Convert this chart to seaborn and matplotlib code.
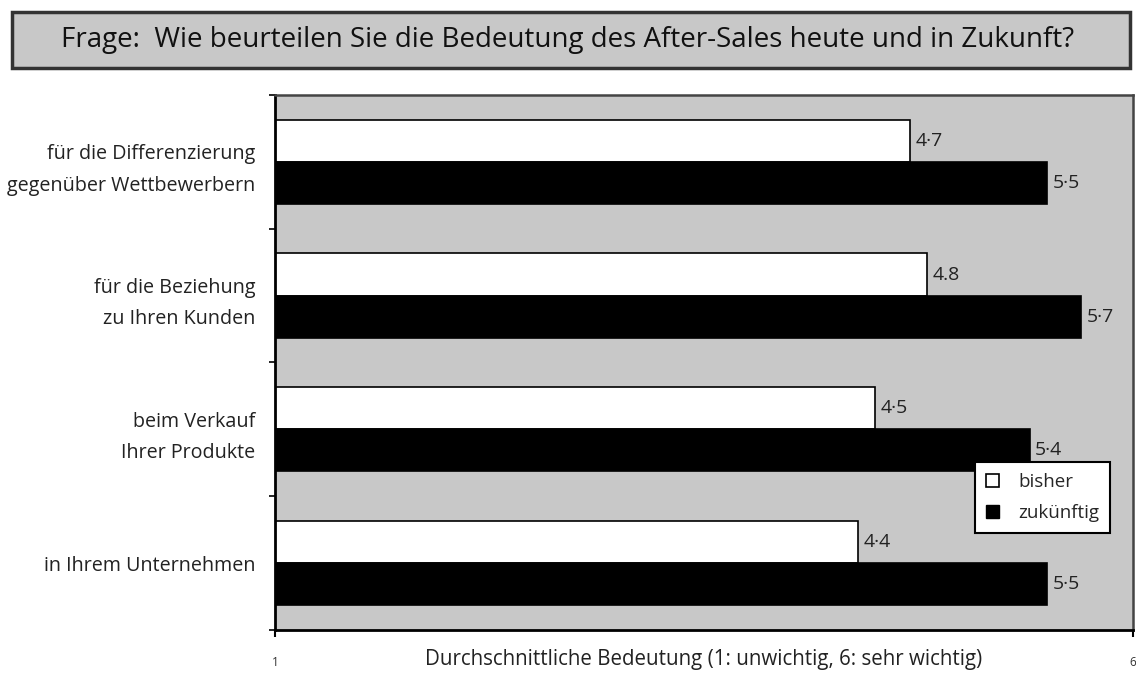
import matplotlib
matplotlib.use("Agg")
import matplotlib.pyplot as plt
import seaborn as sns
import pandas as pd
from matplotlib.patches import Patch, FancyBboxPatch

categories = ["für die Differenzierung\ngegenüber Wettbewerbern",
              "für die Beziehung\nzu Ihren Kunden",
              "beim Verkauf\nIhrer Produkte",
              "in Ihrem Unternehmen"]
series = ["bisher", "zukünftig"]
bisher = [4.7, 4.8, 4.5, 4.4]
zukuenftig = [5.5, 5.7, 5.4, 5.5]
bisher_labels = ["4·7", "4.8", "4·5", "4·4"]
zukuenftig_labels = ["5·5", "5·7", "5·4", "5·5"]
x_ticks = [1, 6]
title = "Frage:  Wie beurteilen Sie die Bedeutung des After-Sales heute und in Zukunft?"
x_label = "Durchschnittliche Bedeutung (1: unwichtig, 6: sehr wichtig)"

df = pd.DataFrame({
    "Kategorie": categories * 2,
    "Serie": [series[0]] * 4 + [series[1]] * 4,
    "Wert": bisher + zukuenftig,
})

sns.set_theme(style="white")
plt.rcParams["font.family"] = ["Open Sans", "DejaVu Sans"]

fig = plt.figure(figsize=(11.36, 6.75), dpi=100)
ax = fig.add_axes([0.242, 0.0667, 0.755, 0.7926])
ax.set_facecolor("#c8c8c8")

sns.barplot(data=df, x="Wert", y="Kategorie", hue="Serie", order=categories,
            hue_order=series, palette={"bisher": "white", "zukünftig": "black"},
            orient="h", width=0.63, edgecolor="black", linewidth=1.2,
            legend=False, ax=ax)

for cont, labs in zip(ax.containers, [bisher_labels, zukuenftig_labels]):
    ax.bar_label(cont, labels=labs, padding=4, fontsize=14, color="#222222")

ax.set_xlim(1, 6)
ax.set_xticks(x_ticks)
ax.set_xticklabels([str(t) for t in x_ticks], fontsize=8.5, color="#333333")
ax.tick_params(axis="x", length=5, width=1.5, color="black", direction="out", pad=14, bottom=True)
ax.set_yticks(range(len(categories)))
ax.set_yticklabels(categories, fontsize=14.2, color="#222222", linespacing=1.75)
ax.tick_params(axis="y", length=0, pad=14)
ax.set_yticks([-0.5, 0.5, 1.5, 2.5, 3.5], minor=True)
ax.tick_params(axis="y", which="minor", length=4, width=1.2, color="black", left=True)
ax.set_ylim(3.5, -0.5)
ax.set_ylabel("")
ax.set_xlabel(x_label, fontsize=14.8, color="#222222", va="center")
ax.xaxis.set_label_coords(0.5, -0.056)

for side in ["left", "bottom"]:
    ax.spines[side].set_color("black")
    ax.spines[side].set_linewidth(2)
for side in ["top", "right"]:
    ax.spines[side].set_color("#444444")
    ax.spines[side].set_linewidth(1.8)

handles = [Patch(facecolor="white", edgecolor="black", linewidth=1.2, label=series[0]),
           Patch(facecolor="black", edgecolor="black", label=series[1])]
leg = ax.legend(handles=handles, loc="lower right", bbox_to_anchor=(0.985, 0.163),
                frameon=True, fancybox=False, edgecolor="black", framealpha=1,
                fontsize=13.5, handlelength=0.7, handleheight=0.7, handletextpad=1.0,
                borderpad=0.6, labelspacing=0.7)
leg.get_frame().set_linewidth(1.5)

box = FancyBboxPatch((12 / 1136, 1 - 68 / 675), (1130 - 12) / 1136, (68 - 12) / 675,
                     boxstyle="square,pad=0", transform=fig.transFigure,
                     facecolor="#c8c8c8", edgecolor="#333333", linewidth=2.5)
fig.patches.append(box)
fig.text(0.5, 1 - 40 / 675, title, ha="center", va="center", fontsize=20,
         color="#111111", family=["Open Sans", "DejaVu Sans"])

fig.savefig("out.png", dpi=100)
